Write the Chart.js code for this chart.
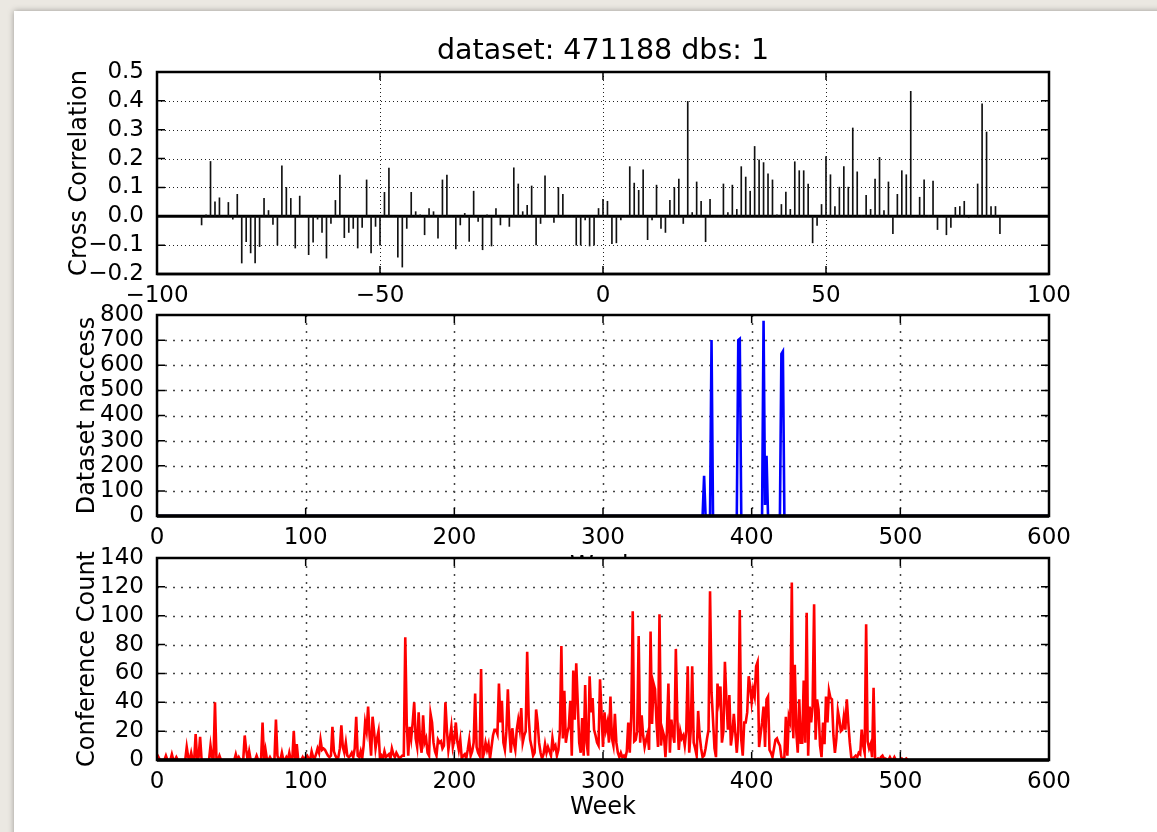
<!DOCTYPE html>
<html>
<head>
<meta charset="utf-8">
<script src="https://cdn.jsdelivr.net/npm/chart.js@4.4.1/dist/chart.umd.min.js"></script>
<style>
  body { margin: 0; width: 1157px; height: 832px; overflow: hidden; background: #ebe8e2; }
  #sheet { position: absolute; left: 14px; top: 11px; width: 1200px; height: 900px; background: #fff;
           box-shadow: 0 0 6px rgba(0, 0, 0, 0.35); }
  canvas { position: absolute; left: 0; top: 0; }
</style>
</head>
<body>
<div id="sheet"></div>
<canvas id="xcorr" width="1157" height="832"></canvas>
<canvas id="naccess" width="1157" height="832"></canvas>
<canvas id="confs" width="1157" height="832"></canvas>
<script>
// cross correlation, lags -90 .. 89
const lagStart = -90;
const xcorrValues = [
  -0.03, 0.005, 0.19, 0.05, 0.064, 0, 0.048, -0.01, 0.076, -0.162,
  -0.088, -0.127, -0.162, -0.105, 0.062, 0.02, -0.028, -0.10, 0.175, 0.10,
  0.062, -0.11, 0.07, 0, -0.133, -0.09, -0.01, -0.056, -0.145, -0.025,
  0.055, 0.143, -0.074, -0.056, -0.042, -0.11, -0.039, 0.126, -0.127, -0.035,
  -0.10, 0.083, 0.167, 0, -0.142, -0.176, -0.042, 0.083, 0.016, 0.005,
  -0.064, 0.027, 0.016, -0.076, 0.126, 0.143, 0, -0.113, -0.03, 0.01,
  -0.087, 0.087, -0.018, -0.116, 0.005, -0.103, 0.027, -0.03, 0, -0.035,
  0.168, 0.112, 0.016, 0.038, 0.105, -0.099, -0.025, 0.14, 0, -0.021,
  0.10, 0.076, 0, 0, -0.1, -0.1, -0.013, -0.103, -0.1, 0.027,
  0.059, 0.052, -0.095, -0.092, -0.013, 0.002, 0.172, 0.115, 0.09, 0.161,
  -0.081, -0.013, 0.108, -0.042, -0.056, 0.055, 0.10, 0.129, -0.025, 0.398,
  0.013, 0.119, 0.052, -0.088, 0.059, 0, 0, 0.112, 0.013, 0.108,
  0.024, 0.172, 0.136, 0.087, 0.242, 0.196, 0.186, 0.147, 0.126, 0.005,
  0.041, 0.084, 0.024, 0.189, 0.158, 0.158, 0.112, -0.092, -0.032, 0.041,
  0.207, 0.144, 0.034, 0.101, 0.172, 0.101, 0.306, 0.154, 0.003, 0.073,
  0.024, 0.129, 0.204, 0.02, 0.119, -0.06, 0.076, 0.158, 0.144, 0.433,
  0, 0.066, 0.126, 0.003, 0.122, -0.046, 0, -0.064, -0.039, 0.031,
  0.034, 0.052, -0.005, 0, 0.112, 0.39, 0.292, 0.034, 0.034, -0.06
];

// dataset accesses per week (weeks not listed are 0)
const naccessWeeks  = [368, 373, 391, 392, 408, 409, 410, 420, 421];
const naccessValues = [160, 700, 700, 705, 777,  44, 240, 645, 655];
const lastWeek = 600;

// conference count per week, from week 0
const confCount = [
  4, 2, 0, 0, 0, 0, 3, 0, 0, 0,
  4, 0, 0, 2, 0, 0, 0, 0, 0, 0,
  9, 2, 0, 5, 0, 0, 18, 0, 2, 16,
  0, 0, 0, 0, 0, 0, 10, 2, 0, 40,
  0, 0, 3, 0, 0, 0, 0, 0, 0, 0,
  0, 0, 0, 4, 0, 2, 0, 0, 0, 17,
  7, 0, 6, 0, 0, 0, 0, 3, 0, 0,
  0, 26, 0, 7, 0, 0, 2, 0, 0, 0,
  28, 3, 0, 0, 5, 0, 0, 2, 0, 5,
  0, 0, 20, 0, 11, 0, 0, 0, 2, 0,
  2, 3, 1, 0, 6, 2, 1, 4, 8, 5,
  14, 7, 8, 7, 5, 3, 2, 3, 23, 6,
  3, 1, 2, 8, 24, 9, 5, 12, 3, 2,
  3, 5, 2, 8, 30, 3, 2, 6, 1, 10,
  26, 20, 37, 17, 3, 30, 20, 8, 15, 20,
  1, 3, 1, 6, 2, 3, 4, 1, 8, 4,
  2, 5, 3, 1, 2, 3, 3, 85, 25, 3,
  23, 15, 26, 40, 15, 9, 33, 12, 5, 31,
  12, 15, 5, 3, 32, 26, 12, 6, 3, 14,
  12, 13, 8, 10, 40, 21, 7, 15, 23, 9,
  14, 26, 13, 7, 14, 1, 3, 4, 1, 7,
  14, 3, 6, 12, 46, 9, 5, 3, 63, 1,
  5, 12, 7, 11, 1, 9, 17, 21, 21, 18,
  53, 26, 41, 12, 7, 20, 49, 21, 5, 22,
  12, 7, 21, 28, 21, 36, 12, 17, 20, 75,
  30, 14, 9, 3, 5, 35, 26, 12, 5, 1,
  4, 11, 5, 9, 6, 3, 15, 8, 10, 3,
  7, 20, 79, 15, 48, 12, 19, 23, 41, 3,
  62, 28, 67, 40, 12, 5, 29, 3, 52, 12,
  3, 58, 33, 43, 21, 17, 12, 10, 56, 33,
  9, 33, 21, 26, 12, 44, 15, 10, 32, 12,
  5, 2, 5, 2, 3, 1, 6, 26, 5, 30,
  103, 13, 14, 20, 86, 12, 31, 17, 9, 14,
  18, 7, 89, 25, 53, 49, 26, 9, 101, 10,
  21, 17, 2, 20, 53, 5, 28, 18, 12, 77,
  28, 7, 20, 15, 17, 10, 20, 65, 5, 20,
  65, 12, 8, 3, 34, 17, 8, 2, 3, 8,
  15, 21, 117, 47, 28, 8, 2, 53, 42, 51,
  12, 20, 68, 42, 21, 45, 10, 18, 32, 19,
  5, 20, 104, 14, 3, 26, 26, 33, 58, 51,
  40, 49, 44, 65, 68, 9, 18, 26, 37, 9,
  42, 44, 7, 5, 2, 8, 14, 15, 12, 10,
  2, 1, 2, 30, 3, 30, 26, 123, 15, 66,
  20, 5, 42, 12, 12, 55, 12, 102, 3, 37,
  26, 37, 108, 14, 42, 35, 10, 2, 26, 11,
  44, 26, 48, 43, 42, 17, 5, 15, 34, 28,
  20, 21, 30, 21, 42, 26, 12, 2, 1, 2,
  3, 2, 5, 4, 21, 10, 5, 94, 13, 8,
  11, 2, 50, 1, 0, 1, 0, 2, 3, 1,
  1, 0, 0, 2, 0, 0, 2, 0, 0, 0,
  0, 1, 0, 0, 1, 0
];

const FONT = "'DejaVu Sans', 'Liberation Sans', sans-serif";
const tickFont = { family: FONT, size: 23, lineHeight: '28px' };
const minus = v => String(v).replace('-', '\u2212');

// white plot area, dotted grid, inward ticks and a black frame (matplotlib look)
function axesStyle(dash, dotColor, dotWidth, baseWidth) {
  return {
    id: 'axesStyle',
    beforeDraw(chart) {
      const { ctx, chartArea: a } = chart;
      ctx.save();
      ctx.fillStyle = '#fff';
      ctx.fillRect(a.left, a.top, a.right - a.left, a.bottom - a.top);
      ctx.restore();
    },
    beforeDatasetsDraw(chart) {
      const { ctx, chartArea: a, scales } = chart;
      ctx.save();
      ctx.strokeStyle = dotColor;
      ctx.lineWidth = dotWidth;
      ctx.setLineDash(dash);
      scales.x.ticks.forEach(t => {
        const px = Math.round(scales.x.getPixelForValue(t.value)) + 0.5;
        if (px < a.left + 2 || px > a.right - 2) return;
        ctx.beginPath(); ctx.moveTo(px, a.top); ctx.lineTo(px, a.bottom); ctx.stroke();
      });
      scales.y.ticks.forEach(t => {
        const py = Math.round(scales.y.getPixelForValue(t.value)) + 0.5;
        if (py < a.top + 2 || py > a.bottom - 2) return;
        ctx.beginPath(); ctx.moveTo(a.left, py); ctx.lineTo(a.right, py); ctx.stroke();
      });
      ctx.restore();
    },
    afterDatasetsDraw(chart) {
      const { ctx, chartArea: a, scales } = chart;
      const len = 8;
      ctx.save();
      ctx.strokeStyle = '#000';
      ctx.lineWidth = 1.5;
      ctx.beginPath();
      scales.x.ticks.forEach(t => {
        const px = scales.x.getPixelForValue(t.value);
        ctx.moveTo(px, a.bottom); ctx.lineTo(px, a.bottom - len);
        ctx.moveTo(px, a.top); ctx.lineTo(px, a.top + len);
      });
      scales.y.ticks.forEach(t => {
        const py = scales.y.getPixelForValue(t.value);
        ctx.moveTo(a.left, py); ctx.lineTo(a.left + len, py);
        ctx.moveTo(a.right, py); ctx.lineTo(a.right - len, py);
      });
      ctx.stroke();
      ctx.lineWidth = 2.5;
      ctx.strokeRect(a.left, a.top, a.right - a.left, a.bottom - a.top);
      // the series sits on y = 0, so the bottom spine is drawn a bit heavier
      ctx.lineWidth = baseWidth;
      ctx.beginPath(); ctx.moveTo(a.left, a.bottom); ctx.lineTo(a.right, a.bottom); ctx.stroke();
      ctx.restore();
    }
  };
}

function axisTitle(text) {
  return { display: true, text: text, color: '#000', padding: 0,
           font: { family: FONT, size: 24, lineHeight: '28px' } };
}

function xAxis(min, max, step, height, title) {
  return {
    type: 'linear', min: min, max: max, offset: false,
    grid: { display: false }, border: { display: false },
    ticks: { stepSize: step, color: '#000', font: tickFont, padding: 0, maxRotation: 0,
             autoSkip: false, callback: v => minus(v) },
    title: title ? axisTitle(title) : { display: false },
    afterFit: s => { s.height = height; }
  };
}

function yAxis(min, max, step, width, title, fmt) {
  return {
    min: min, max: max,
    grid: { display: false }, border: { display: false },
    ticks: { stepSize: step, color: '#000', font: tickFont, padding: 5, autoSkip: false,
             callback: fmt },
    title: axisTitle(title),
    afterFit: s => { s.width = width; }
  };
}

const baseOptions = { responsive: false, animation: false, events: [] };
const noLegend = { legend: { display: false }, tooltip: { enabled: false } };

// top panel: cross correlation as vertical lines about a thick zero line
const xcorrPoints = xcorrValues.map((v, i) => ({ x: lagStart + i, y: v }));
new Chart(document.getElementById('xcorr'), {
  type: 'bar',
  data: {
    datasets: [
      { type: 'bar', data: xcorrPoints, backgroundColor: '#111', barThickness: 1, borderWidth: 0 },
      { type: 'line', data: [{ x: -100, y: 0 }, { x: 100, y: 0 }], borderColor: '#000',
        borderWidth: 3, pointRadius: 0 }
    ]
  },
  options: Object.assign({}, baseOptions, {
    layout: { padding: { left: 66, right: 108, top: 20, bottom: 518 } },
    plugins: Object.assign({}, noLegend, {
      title: { display: true, text: 'dataset: 471188 dbs: 1', fullSize: false, color: '#000',
               font: { family: FONT, size: 28.5, weight: 'normal', lineHeight: '32px' },
               padding: { top: 16, bottom: 4 } }
    }),
    scales: {
      x: xAxis(-100, 100, 50, 40, null),
      y: yAxis(-0.2, 0.5, 0.1, 91, 'Cross Correlation',
               v => minus((Math.round(v * 10) / 10 + 0).toFixed(1)))
    }
  }),
  plugins: [axesStyle([1, 3], '#222', 1, 2.5)]
});

// middle panel: dataset accesses
const naccessSeries = [];
for (let w = 0; w <= lastWeek; w++) naccessSeries.push({ x: w, y: 0 });
naccessWeeks.forEach((w, i) => { naccessSeries[w].y = naccessValues[i]; });

new Chart(document.getElementById('naccess'), {
  type: 'line',
  data: { datasets: [{ data: naccessSeries, borderColor: '#0000ff', borderWidth: 2.6,
                       pointRadius: 0, tension: 0, clip: 0 }] },
  options: Object.assign({}, baseOptions, {
    layout: { padding: { left: 74, right: 108, top: 315, bottom: 251 } },
    plugins: noLegend,
    scales: {
      x: xAxis(0, 600, 100, 65, 'Week'),
      y: yAxis(0, 800, 100, 83, 'Dataset naccess', v => v)
    }
  }),
  plugins: [axesStyle([2, 6], '#444', 1.5, 3.4)]
});

// bottom panel: conference count
const confPoints = confCount.map((v, w) => ({ x: w, y: v }));
new Chart(document.getElementById('confs'), {
  type: 'line',
  data: { datasets: [{ data: confPoints, borderColor: '#ff0000', borderWidth: 2.6,
                       pointRadius: 0, tension: 0, clip: 0 }] },
  options: Object.assign({}, baseOptions, {
    layout: { padding: { left: 74, right: 108, top: 558, bottom: 10 } },
    plugins: noLegend,
    scales: {
      x: xAxis(0, 600, 100, 62, 'Week'),
      y: yAxis(0, 140, 20, 83, 'Conference Count', v => v)
    }
  }),
  plugins: [axesStyle([2, 6], '#444', 1.5, 3.4)]
});
</script>
</body>
</html>
